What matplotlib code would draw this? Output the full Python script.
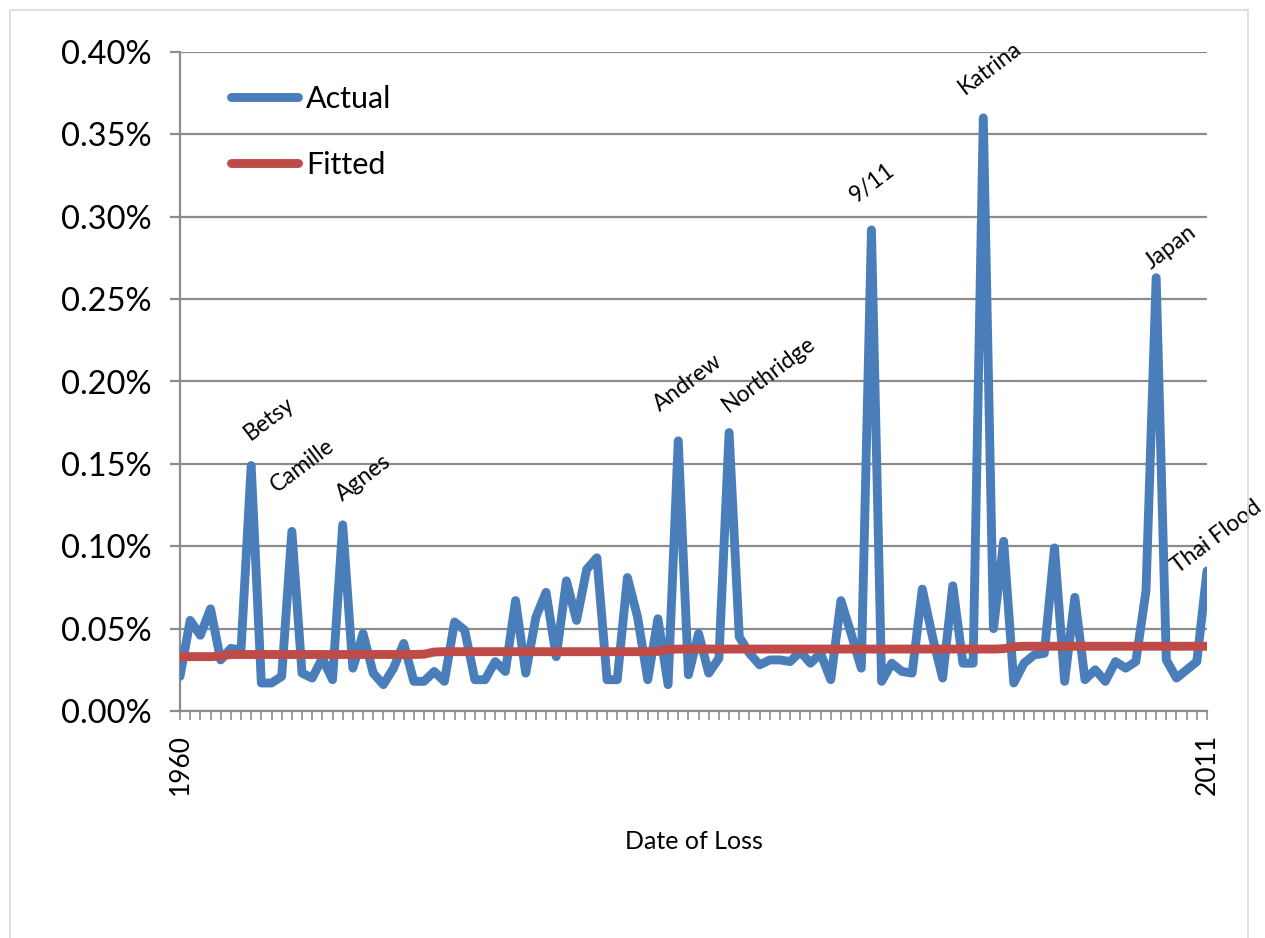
import matplotlib
matplotlib.use("Agg")
import matplotlib.pyplot as plt
from matplotlib.patches import Rectangle
from matplotlib.ticker import FuncFormatter

plt.rcParams['font.family'] = ['Lato', 'DejaVu Sans']

# Actual loss ratio (%) by event date, 1960 .. 2011
actual = [
    0.021, 0.055, 0.046, 0.062, 0.031, 0.038, 0.037, 0.149, 0.017, 0.017,
    0.021, 0.109, 0.023, 0.020, 0.032, 0.019, 0.113, 0.026, 0.047, 0.023,
    0.016, 0.026, 0.041, 0.018, 0.018, 0.024, 0.018, 0.054, 0.049, 0.019,
    0.019, 0.030, 0.024, 0.067, 0.023, 0.057, 0.072, 0.033, 0.079, 0.055,
    0.086, 0.093, 0.019, 0.019, 0.081, 0.057, 0.019, 0.056, 0.016, 0.164,
    0.022, 0.047, 0.023, 0.032, 0.169, 0.045, 0.035, 0.028, 0.031, 0.031,
    0.030, 0.036, 0.029, 0.035, 0.019, 0.067, 0.047, 0.026, 0.292, 0.018,
    0.029, 0.024, 0.023, 0.074, 0.045, 0.020, 0.076, 0.029, 0.029, 0.360,
    0.050, 0.103, 0.017, 0.029, 0.034, 0.035, 0.099, 0.018, 0.069, 0.019,
    0.025, 0.018, 0.030, 0.026, 0.030, 0.073, 0.263, 0.031, 0.020, 0.025,
    0.030, 0.085,
]

fitted = [
    0.0330, 0.0330, 0.0330, 0.0330, 0.0333, 0.0343, 0.0343, 0.0343, 0.0343, 0.0343,
    0.0343, 0.0343, 0.0343, 0.0343, 0.0343, 0.0343, 0.0343, 0.0343, 0.0343, 0.0343,
    0.0343, 0.0343, 0.0343, 0.0343, 0.0345, 0.0358, 0.0360, 0.0360, 0.0360, 0.0360,
    0.0360, 0.0360, 0.0360, 0.0360, 0.0360, 0.0360, 0.0360, 0.0360, 0.0360, 0.0360,
    0.0360, 0.0360, 0.0360, 0.0360, 0.0360, 0.0360, 0.0360, 0.0362, 0.0374, 0.0376,
    0.0376, 0.0376, 0.0376, 0.0376, 0.0376, 0.0376, 0.0376, 0.0376, 0.0376, 0.0376,
    0.0376, 0.0376, 0.0376, 0.0376, 0.0376, 0.0376, 0.0376, 0.0376, 0.0376, 0.0376,
    0.0376, 0.0376, 0.0376, 0.0376, 0.0376, 0.0376, 0.0376, 0.0376, 0.0376, 0.0376,
    0.0376, 0.0378, 0.0390, 0.0393, 0.0393, 0.0393, 0.0393, 0.0393, 0.0393, 0.0393,
    0.0393, 0.0393, 0.0393, 0.0393, 0.0393, 0.0393, 0.0393, 0.0393, 0.0393, 0.0393,
    0.0393, 0.0393,
]

first_label = "1960"
last_label = "2011"

# Named events: (label, index in series, label offset in pixels)
event_names = ["Betsy", "Camille", "Agnes", "Andrew", "Northridge", "9/11",
               "Katrina", "Japan", "Thai Flood"]
event_index = [7, 11, 16, 49, 54, 68, 79, 96, 101]
event_offset = [(-1, 25), (-15, 38), (0, 23), (-18, 29), (-1, 20), (-15, 27),
                (-18, 23), (-5, 8), (-29, -3)]

yticks = [0.00, 0.05, 0.10, 0.15, 0.20, 0.25, 0.30, 0.35, 0.40]

BLUE = "#4a7ebb"
RED = "#be4b48"
GRID = "#8c8c8c"

fig = plt.figure(figsize=(12.65, 9.38), dpi=100)
fig.patches.append(Rectangle((10 / 1265, -0.05), (1248 - 10) / 1265, 1 - 10 / 938 + 0.05,
                             transform=fig.transFigure, fill=False,
                             edgecolor="#d9d9d9", linewidth=1.2))

ax = fig.add_axes([180 / 1265, 1 - 711 / 938, (1207 - 180) / 1265, (711 - 52) / 938])

x = list(range(len(actual)))
ax.plot(x, actual, color=BLUE, linewidth=6.4, solid_joinstyle="round",
        solid_capstyle="round", label="Actual", zorder=3)
ax.plot(x, fitted, color=RED, linewidth=6.4, solid_capstyle="round",
        label="Fitted", zorder=4)

ax.set_xlim(0, len(actual) - 1)
ax.set_ylim(0, 0.40)
ax.set_yticks(yticks)
ax.yaxis.set_major_formatter(FuncFormatter(lambda v, p: f"{v:.2f}%"))
ax.grid(axis="y", color=GRID, linewidth=1.6, zorder=0)
ax.set_axisbelow(True)

ax.set_xticks(x)
labels = [""] * len(x)
labels[0] = first_label
labels[-1] = last_label
ax.set_xticklabels(labels, rotation=90, fontsize=19)
ax.tick_params(axis="x", direction="out", length=6.5, width=1.2, color=GRID, pad=10)
ax.tick_params(axis="y", direction="out", length=7.2, width=1.6, color=GRID, pad=13,
               labelsize=23.5)

for side in ["top", "right"]:
    ax.spines[side].set_visible(False)
for side in ["left", "bottom"]:
    ax.spines[side].set_color(GRID)
    ax.spines[side].set_linewidth(1.6)

ax.set_xlabel("Date of Loss", fontsize=18, labelpad=25)

for name, idx, off in zip(event_names, event_index, event_offset):
    ax.annotate(name, xy=(idx, actual[idx]), xytext=off, textcoords="offset pixels",
                rotation=37, rotation_mode="anchor", ha="left", va="baseline",
                fontsize=16.5, annotation_clip=False)

leg = ax.legend(loc="upper left", bbox_to_anchor=(0.023, 0.992), frameon=False,
                fontsize=22, handlelength=2.2, handletextpad=0.25, labelspacing=1.25)

fig.savefig("out.png", dpi=100)
